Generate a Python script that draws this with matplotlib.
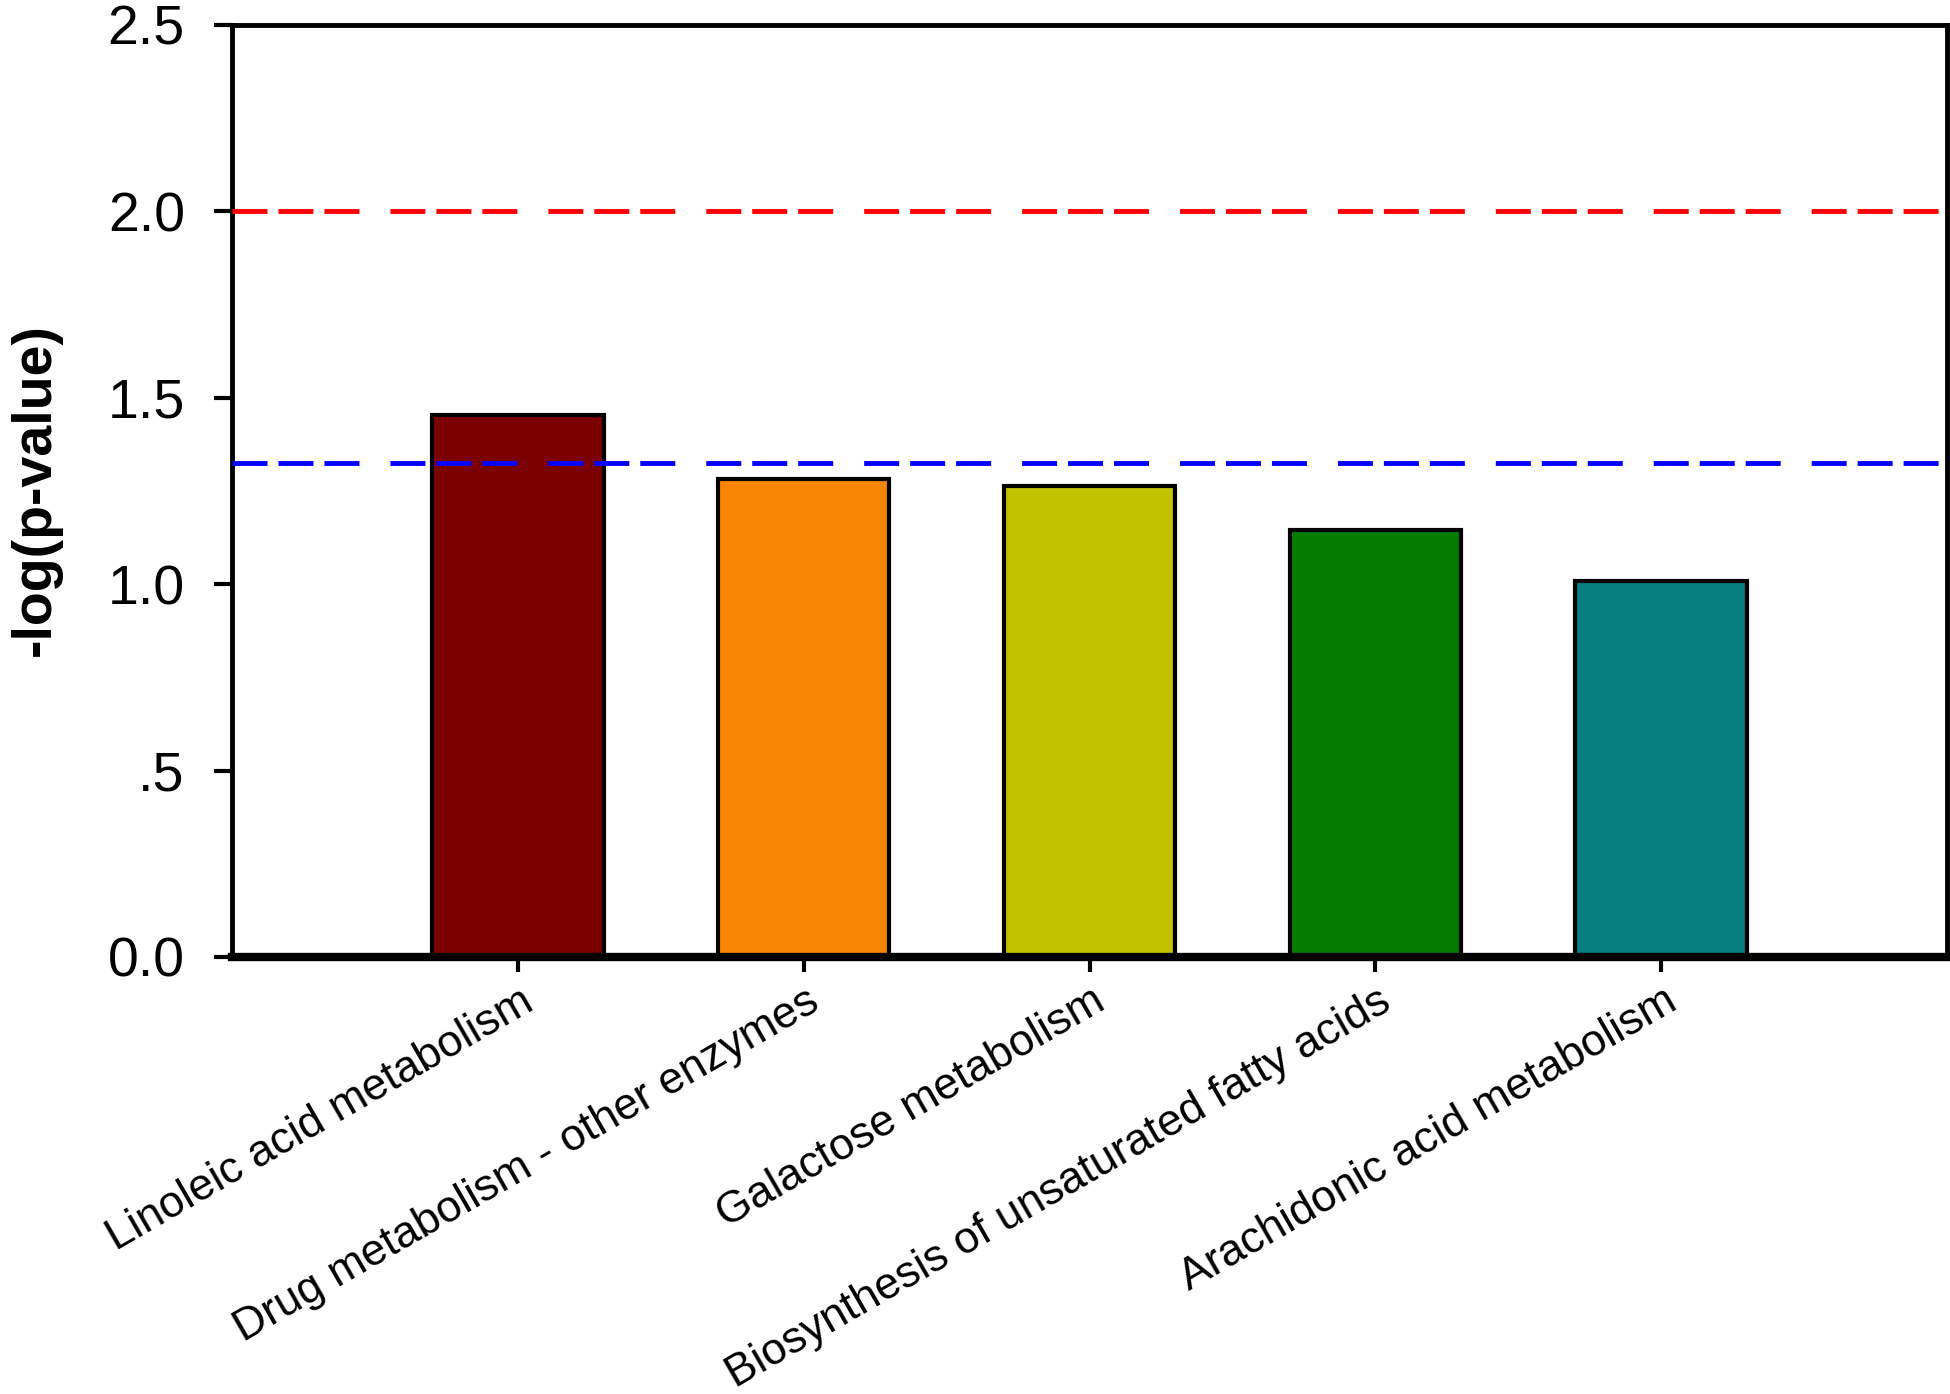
import matplotlib
matplotlib.use("Agg")
import matplotlib.pyplot as plt
import matplotlib.transforms as mtransforms

categories = [
    "Linoleic acid metabolism",
    "Drug metabolism - other enzymes",
    "Galactose metabolism",
    "Biosynthesis of unsaturated fatty acids",
    "Arachidonic acid metabolism",
]
values = [1.455, 1.282, 1.263, 1.145, 1.009]
bar_colors = ["#7B0000", "#F98500", "#C2C200", "#057D05", "#077F80"]
red_threshold = 2.0
blue_threshold = 1.325
ytick_values = [0.0, 0.5, 1.0, 1.5, 2.0, 2.5]
ytick_labels = ["0.0", ".5", "1.0", "1.5", "2.0", "2.5"]
ylabel = "-log(p-value)"

plt.rcParams["font.family"] = ["Liberation Sans", "DejaVu Sans"]
plt.rcParams["lines.scale_dashes"] = False

fig = plt.figure(figsize=(19.5, 13.94), dpi=100)
ax = fig.add_axes([0.119, 0.3135, 0.8795, 0.6686])

x = list(range(len(categories)))
ax.bar(x, values, width=0.6, color=bar_colors, edgecolor="black",
       linewidth=3, zorder=2)

dash = (0, (25.2, 7.9, 25.2, 7.9, 25.2, 22.3))
ax.axhline(red_threshold, color="#FF0000", linewidth=3.5, linestyle=dash, zorder=3)
ax.axhline(blue_threshold, color="#0000FF", linewidth=3.5, linestyle=dash, zorder=3)

ax.set_xlim(-1, 5)
ax.set_ylim(0, 2.5)

for side in ["left", "top", "right"]:
    ax.spines[side].set_linewidth(3.5)
ax.spines["bottom"].set_linewidth(6)
ax.spines["bottom"].set_zorder(2.5)

ax.set_yticks(ytick_values)
ax.set_yticklabels(ytick_labels, fontsize=40)
ax.tick_params(axis="y", direction="out", length=13, width=3, pad=21)

ax.set_xticks(x)
ax.set_xticklabels(categories, fontsize=32, rotation=30, ha="right",
                   va="top", rotation_mode="anchor")
ax.tick_params(axis="x", direction="out", length=11, width=3, pad=6)
offset = mtransforms.ScaledTranslation(0.02, 0, fig.dpi_scale_trans)
for lbl in ax.get_xticklabels():
    lbl.set_transform(lbl.get_transform() + offset)

fig.text(36 / 1950, 1 - 490 / 1394, ylabel, rotation=90, ha="center",
         va="center", fontsize=40, fontweight="bold")

fig.savefig("out.png", dpi=100)
